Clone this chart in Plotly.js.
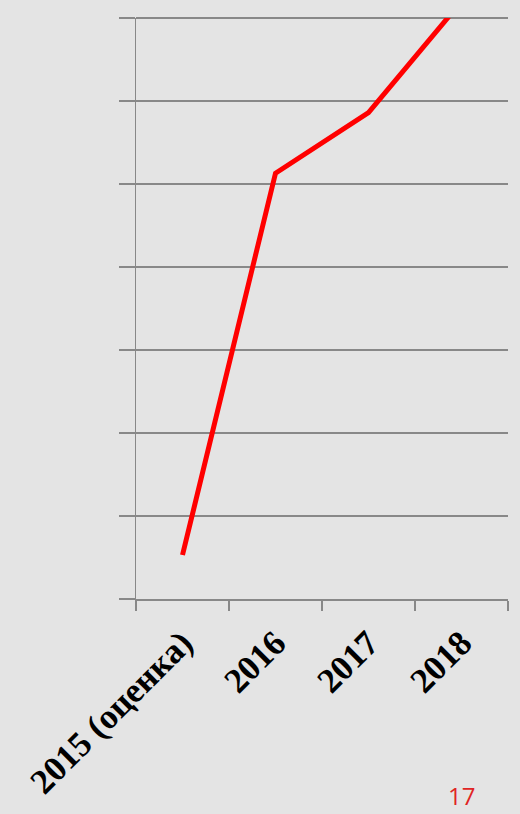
<!DOCTYPE html>
<html>
<head>
<meta charset="utf-8">
<script src="https://cdn.plot.ly/plotly-3.0.1.min.js"></script>
<style>
html,body{margin:0;padding:0;background:#e4e4e4;}
#chart{width:520px;height:814px;}
</style>
</head>
<body>
<div id="chart"></div>
<script>
var categories = ["2015 (оценка)", "2016", "2017", "2018"];
var values = [0.53, 5.13, 5.86, 7.2];
var pageNumber = "17";

var trace = {
  x: categories,
  y: values,
  type: "scatter",
  mode: "lines",
  line: {color: "#ff0000", width: 5},
  hoverinfo: "skip"
};

var layout = {
  width: 520,
  height: 814,
  paper_bgcolor: "#e4e4e4",
  plot_bgcolor: "#e4e4e4",
  margin: {l: 136, r: 12, t: 18, b: 215},
  showlegend: false,
  xaxis: {
    type: "category",
    range: [-0.5, 3.5],
    tickson: "boundaries",
    ticks: "outside",
    ticklen: 10,
    tickwidth: 1.5,
    tickcolor: "#888888",
    showgrid: false,
    showline: true,
    linecolor: "#888888",
    linewidth: 1.5,
    tickangle: -45,
    ticklabelstandoff: 8,
    tickfont: {family: "Liberation Serif, Times New Roman, serif", size: 35, color: "#000000", weight: "bold"},
    zeroline: false
  },
  yaxis: {
    range: [0, 7],
    dtick: 1,
    showticklabels: false,
    ticks: "outside",
    ticklen: 16,
    tickwidth: 1.5,
    tickcolor: "#888888",
    showgrid: true,
    gridcolor: "#888888",
    gridwidth: 1.5,
    showline: true,
    linecolor: "#888888",
    linewidth: 1.5,
    zeroline: false
  },
  shapes: [{
    type: "line", layer: "below",
    xref: "paper", x0: 0, x1: 1,
    yref: "paper", y0: 1, y1: 1,
    line: {color: "#888888", width: 2}
  }],
  annotations: [{
    text: pageNumber,
    xref: "paper", yref: "paper",
    x: 0.874, y: -0.37,
    xanchor: "center", yanchor: "bottom",
    showarrow: false,
    font: {family: "Open Sans, Noto Sans, sans-serif", size: 24, color: "#e02424"}
  }]
};

Plotly.newPlot("chart", [trace], layout, {displayModeBar: false, staticPlot: true});
</script>
</body>
</html>
